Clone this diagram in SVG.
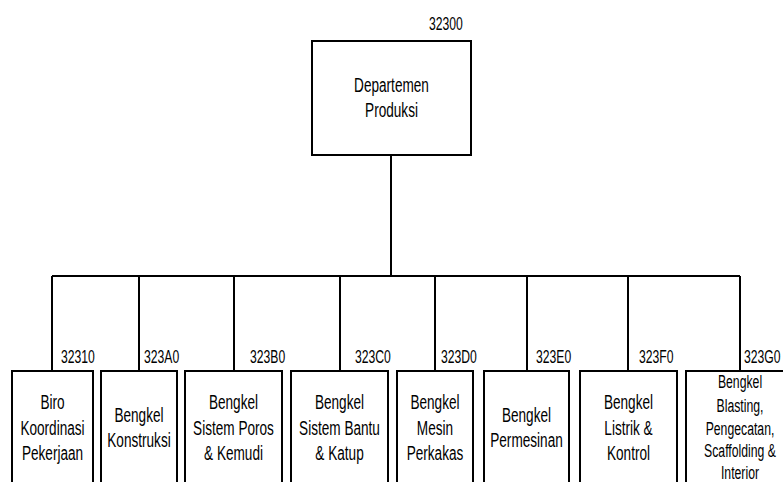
<svg xmlns="http://www.w3.org/2000/svg" width="783" height="482" viewBox="0 0 783 482">
<style>
.box{fill:#fff;stroke:#000;stroke-width:2}
.ln{fill:none;stroke:#000;stroke-width:2}
.t{font-family:"Liberation Sans",Arial,sans-serif;font-size:20px;fill:#000;text-anchor:middle}
.ts{font-family:"Liberation Sans",Arial,sans-serif;font-size:18px;fill:#000;text-anchor:middle}
.c{font-family:"Liberation Sans",Arial,sans-serif;font-size:19px;fill:#000}
</style>
<rect width="783" height="482" fill="#fff"/>
<g id="connectors">
<path class="ln" d="M391 155V276M52 276H740M52 276V371M139 276V371M234 276V371M340 276V371M435 276V371M527 276V371M628 276V371M740 276V371"/>
</g>
<g id="n32300">
<rect class="box" x="312" y="41" width="159" height="114"/>
<text class="c" transform="matrix(0.64 0 0 1 429 30)">32300</text>
<text class="t" transform="matrix(0.68 0 0 1 391.5 0)"><tspan x="0" y="92">Departemen</tspan><tspan x="0" y="117">Produksi</tspan></text>
</g>
<g id="n32310">
<rect class="box" x="12" y="371" width="81" height="120"/>
<text class="c" transform="matrix(0.64 0 0 1 61 363)">32310</text>
<text class="t" transform="matrix(0.68 0 0 1 52.5 0)"><tspan x="0" y="409">Biro</tspan><tspan x="0" y="435">Koordinasi</tspan><tspan x="0" y="460">Pekerjaan</tspan></text>
</g>
<g id="n323A0">
<rect class="box" x="101" y="371" width="76" height="120"/>
<text class="c" transform="matrix(0.64 0 0 1 144 363)">323A0</text>
<text class="t" transform="matrix(0.68 0 0 1 139 0)"><tspan x="0" y="422">Bengkel</tspan><tspan x="0" y="447">Konstruksi</tspan></text>
</g>
<g id="n323B0">
<rect class="box" x="185" y="371" width="97" height="120"/>
<text class="c" transform="matrix(0.64 0 0 1 250 363)">323B0</text>
<text class="t" transform="matrix(0.68 0 0 1 233.5 0)"><tspan x="0" y="409">Bengkel</tspan><tspan x="0" y="435">Sistem Poros</tspan><tspan x="0" y="460">&amp; Kemudi</tspan></text>
</g>
<g id="n323C0">
<rect class="box" x="291" y="371" width="97" height="120"/>
<text class="c" transform="matrix(0.64 0 0 1 355 363)">323C0</text>
<text class="t" transform="matrix(0.68 0 0 1 339.5 0)"><tspan x="0" y="409">Bengkel</tspan><tspan x="0" y="435">Sistem Bantu</tspan><tspan x="0" y="460">&amp; Katup</tspan></text>
</g>
<g id="n323D0">
<rect class="box" x="397" y="371" width="76" height="120"/>
<text class="c" transform="matrix(0.64 0 0 1 441 363)">323D0</text>
<text class="t" transform="matrix(0.68 0 0 1 435 0)"><tspan x="0" y="409">Bengkel</tspan><tspan x="0" y="435">Mesin</tspan><tspan x="0" y="460">Perkakas</tspan></text>
</g>
<g id="n323E0">
<rect class="box" x="484" y="371" width="85" height="120"/>
<text class="c" transform="matrix(0.64 0 0 1 536 363)">323E0</text>
<text class="t" transform="matrix(0.68 0 0 1 526.5 0)"><tspan x="0" y="422">Bengkel</tspan><tspan x="0" y="447">Permesinan</tspan></text>
</g>
<g id="n323F0">
<rect class="box" x="580" y="371" width="97" height="120"/>
<text class="c" transform="matrix(0.64 0 0 1 639 363)">323F0</text>
<text class="t" transform="matrix(0.68 0 0 1 628.5 0)"><tspan x="0" y="409">Bengkel</tspan><tspan x="0" y="435">Listrik &amp;</tspan><tspan x="0" y="460">Kontrol</tspan></text>
</g>
<g id="n323G0">
<rect class="box" x="686" y="371" width="109" height="120"/>
<text class="c" transform="matrix(0.64 0 0 1 744 363)">323G0</text>
<text class="ts" transform="matrix(0.68 0 0 1 740 0)"><tspan x="0" y="388">Bengkel</tspan><tspan x="0" y="412">Blasting,</tspan><tspan x="0" y="435">Pengecatan,</tspan><tspan x="0" y="457">Scaffolding &amp;</tspan><tspan x="0" y="479">Interior</tspan></text>
</g>
</svg>
